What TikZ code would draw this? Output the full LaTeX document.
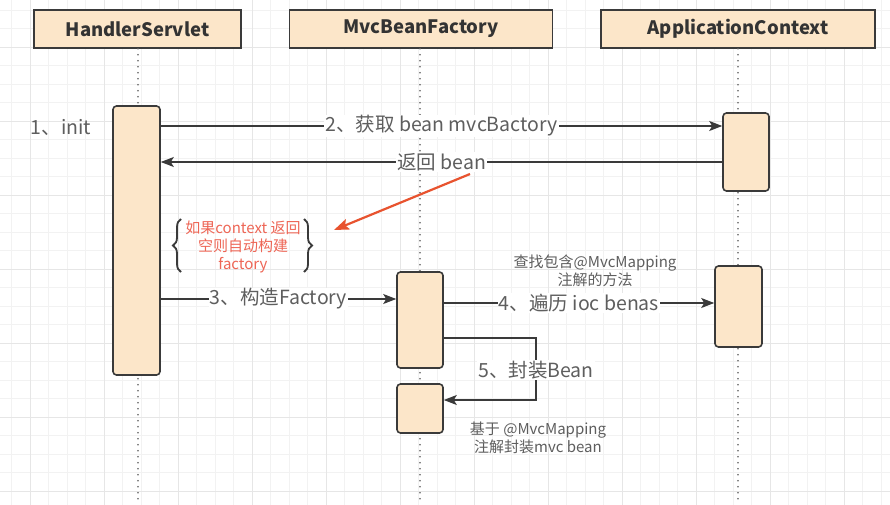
\documentclass[tikz,border=0pt]{standalone}
\usepackage{fontspec}
\setmainfont{Noto Sans CJK SC}
\usetikzlibrary{arrows.meta,decorations.pathreplacing}
\definecolor{peach}{HTML}{FCE6C9}
\definecolor{edgec}{HTML}{3A3A3A}
\definecolor{lblc}{HTML}{5E5E5E}
\definecolor{headc}{HTML}{333333}
\definecolor{redc}{HTML}{E8532F}
\definecolor{notec}{HTML}{EE6656}
\definecolor{gridminor}{HTML}{F2F2F2}
\definecolor{gridmajor}{HTML}{E6E6E6}
\begin{document}
\begin{tikzpicture}[x=1pt,y=-1pt,
  head/.style={draw=edgec, fill=peach, line width=1.5pt, font=\bfseries\fontsize{18.5}{21}\selectfont, text=headc, minimum height=38pt, inner sep=0pt},
  act/.style={draw=edgec, fill=peach, line width=1.6pt, rounded corners=3.5pt, inner sep=0pt},
  msg/.style={draw=edgec, line width=1.3pt, -{Stealth[length=13pt,width=10pt,inset=3pt]}},
  lbl/.style={text=lblc, fill=white, font=\fontsize{19.5}{22}\selectfont, inner sep=1pt},
  small/.style={text=lblc, font=\fontsize{15}{18}\selectfont, align=center, inner sep=0pt},
  life/.style={draw=lblc, line width=1.8pt, line cap=round, dash pattern=on 0pt off 6pt}
]
\useasboundingbox (0,0) rectangle (890,505);
\fill[white] (0,0) rectangle (890,505);
% grid
\foreach \i in {0,...,48} {
  \draw[gridminor, line width=0.5pt] ({11.5+\i*18.5},0) -- ({11.5+\i*18.5},505);
}
\foreach \i in {0,...,27} {
  \draw[gridminor, line width=0.5pt] (0,{10+\i*18.5}) -- (890,{10+\i*18.5});
}
\foreach \i in {0,...,12} {
  \draw[gridmajor, line width=0.7pt] ({30+\i*74},0) -- ({30+\i*74},505);
}
\foreach \i in {0,...,6} {
  \draw[gridmajor, line width=0.7pt] (0,{47+\i*74}) -- (890,{47+\i*74});
}

% headers
\node[head, minimum width=207pt] (hs) at (137.5,29) {HandlerServlet};
\node[head, minimum width=263pt] (mbf) at (421,29) {MvcBeanFactory};
\node[head, minimum width=274pt] (ac) at (738,29) {ApplicationContext};

% lifelines
\coordinate (hsend) at (138,503);
\coordinate (mbfend) at (420,503);
\coordinate (acend) at (738,503);
\draw[life] (hs.south -| hsend) -- (hsend);
\draw[life] (mbf.south -| mbfend) -- (mbfend);
\draw[life] (ac.south -| acend) -- (acend);

% activations
\node[act, minimum width=47pt, minimum height=269pt] (hsact) at (136.5,240.5) {};
\node[act, minimum width=46pt, minimum height=78pt] (acone) at (746,152) {};
\node[act, minimum width=47pt, minimum height=81pt] (actwo) at (738.5,306.5) {};
\node[act, minimum width=46pt, minimum height=96pt] (mbfact) at (420,320) {};
\node[act, minimum width=46pt, minimum height=49pt] (mbfsmall) at (420,408.5) {};

% messages
\coordinate (ytwo) at (0,126);
\coordinate (yret) at (0,162);
\coordinate (ythree) at (0,299);
\coordinate (yfour) at (0,303);
\coordinate (yfive) at (0,338);
\coordinate (cfive) at (536,370);
\coordinate (yfiveend) at (0,400);

\draw[msg] (hsact.east |- ytwo) -- node[lbl] {2、获取 bean mvcBactory} (acone.west |- ytwo);
\draw[msg] (acone.west |- yret) -- node[lbl] {返回 bean} (hsact.east |- yret);
\draw[msg] (hsact.east |- ythree) -- node[lbl] {3、构造Factory} (mbfact.west |- ythree);
\draw[msg] (mbfact.east |- yfour) -- node[lbl] {4、遍历 ioc benas} (actwo.west |- yfour);
\draw[msg] (mbfact.east |- yfive) -| (cfive) |- (mbfsmall.east |- yfiveend);
\node[lbl] (lfive) at (cfive) {5、封装Bean};

% texts
\node[text=lblc, font=\fontsize{19.5}{22}\selectfont] (init) at (61,127) {1、init};
\node[small] (find) at (595,271) {查找包含@MvcMapping\\注解的方法};
\node[small] (wrap) at (538,438) {基于 @MvcMapping\\注解封装mvc bean};

% red note
\node[text=notec, align=center, font=\fontsize{15}{18}\selectfont, inner sep=0pt] (note) at (243,247) {如果context 返回\\空则自动构建\\factory};
\coordinate (lbA) at (181,272);
\coordinate (lbB) at (181,219);
\coordinate (rbA) at (304,219);
\coordinate (rbB) at (304,272);
\draw[edgec, line width=1.8pt, decorate, decoration={brace, amplitude=8pt}] (lbA) -- (lbB);
\draw[edgec, line width=1.8pt, decorate, decoration={brace, amplitude=8pt}] (rbA) -- (rbB);
\coordinate (redtail) at (470,174);
\coordinate (redtip) at (334,230);
\draw[redc, line width=2.2pt, -{Stealth[length=15pt,width=11pt,inset=3pt]}] (redtail) -- (redtip);
\end{tikzpicture}
\end{document}
